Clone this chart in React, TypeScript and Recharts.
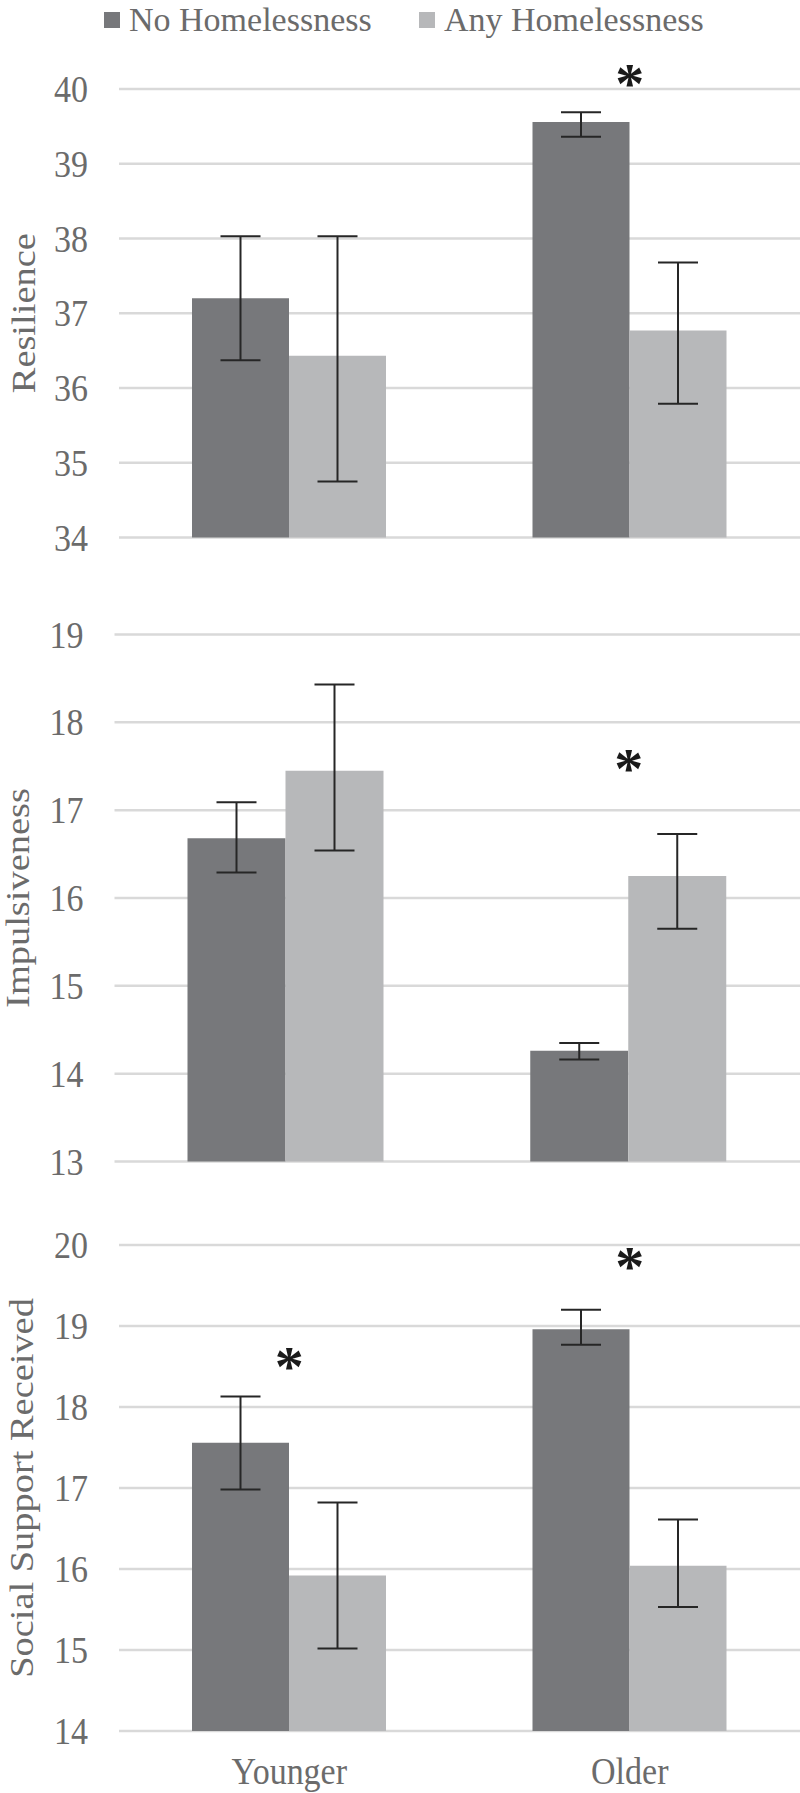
import React from "react";
import { BarChart, Bar, XAxis, YAxis, CartesianGrid, ErrorBar, ReferenceDot, Legend, Label } from "recharts";

const groups = ["Younger", "Older"];
const seriesNames = ["No Homelessness", "Any Homelessness"];

// Resilience
const resNo = [37.2, 39.56];
const resNoLo = [36.37, 39.36];
const resNoHi = [38.03, 39.69];
const resAny = [36.43, 36.77];
const resAnyLo = [34.75, 35.79];
const resAnyHi = [38.03, 37.68];
const resStars = [null, 40.19];
const resTicks = [34, 35, 36, 37, 38, 39, 40];

// Impulsiveness
const impNo = [16.68, 14.26];
const impNoLo = [16.29, 14.16];
const impNoHi = [17.09, 14.35];
const impAny = [17.45, 16.25];
const impAnyLo = [16.54, 15.65];
const impAnyHi = [18.43, 16.73];
const impStars = [null, 17.57];
const impTicks = [13, 14, 15, 16, 17, 18, 19];

// Social Support Received
const supNo = [17.56, 18.96];
const supNoLo = [16.98, 18.77];
const supNoHi = [18.13, 19.2];
const supAny = [15.92, 16.04];
const supAnyLo = [15.02, 15.53];
const supAnyHi = [16.82, 16.61];
const supStars = [18.6, 19.84];
const supTicks = [14, 15, 16, 17, 18, 19, 20];

const DARK = "#77787b";
const LIGHT = "#b7b8ba";
const GRID = "#d9d9d9";
const TEXT = "#6b6b6b";
const SERIF = '"Liberation Serif", "Times New Roman", serif';
const FS = 34;
const SY = 1.13;

function buildRows(no: number[], noLo: number[], noHi: number[], any: number[], anyLo: number[], anyHi: number[]) {
  return groups.map((g, i) => ({
    group: g,
    no: no[i],
    noErr: [no[i] - noLo[i], noHi[i] - no[i]],
    any: any[i],
    anyErr: [any[i] - anyLo[i], anyHi[i] - any[i]],
  }));
}

const YTick = (props: any) => {
  const { x, y, payload } = props;
  return (
    <g transform={`translate(${x},${y}) scale(1,${SY})`}>
      <text x={0} y={0} dy={0.34 * FS} textAnchor="end" fontSize={FS} fontFamily={SERIF} fill={TEXT}>
        {payload.value}
      </text>
    </g>
  );
};

const XTick = (props: any) => {
  const { x, y, payload } = props;
  return (
    <g transform={`translate(${x},${y + 53}) scale(1,${SY})`}>
      <text x={0} y={0} textAnchor="middle" fontSize={FS} fontFamily={SERIF} fill={TEXT}>
        {payload.value}
      </text>
    </g>
  );
};

const titleContent = (text: string, tx: number) => (props: any) => {
  const vb = props.viewBox;
  const cy = vb.y + vb.height / 2;
  return (
    <g transform={`translate(${vb.x + tx},${cy}) scale(1,${SY}) rotate(-90)`}>
      <text x={0} y={0} textAnchor="middle" fontSize={FS} fontFamily={SERIF} fill={TEXT}>
        {text}
      </text>
    </g>
  );
};

const Star = (props: any) => (
  <text x={props.cx} y={props.cy + 28} textAnchor="middle" fontSize={58} fontWeight="bold" fontFamily={SERIF} fill="#1a1a1a">
    *
  </text>
);

const LEGEND_X = [104, 419];

const LegendContent = (props: any) => {
  const items = [...(props.payload || [])].sort(
    (a: any, b: any) => seriesNames.indexOf(a.value) - seriesNames.indexOf(b.value)
  );
  return (
    <svg width={800} height={44} style={{ display: "block" }}>
      {items.map((p: any, i: number) => (
        <g key={i}>
          <rect x={LEGEND_X[i]} y={12} width={16} height={16} fill={p.color} />
          <text x={LEGEND_X[i] + 25} y={31} fontSize={FS} fontFamily={SERIF} fill={TEXT}>
            {p.value}
          </text>
        </g>
      ))}
    </svg>
  );
};

type PanelProps = {
  rows: any[];
  ticks: number[];
  stars: (number | null)[];
  title: string;
  titleX: number;
  top: number;
  height: number;
  margin: { top: number; right: number; bottom: number; left: number };
  yWidth: number;
  showX?: boolean;
  showLegend?: boolean;
};

function Panel({ rows, ticks, stars, title, titleX, top, height, margin, yWidth, showX, showLegend }: PanelProps) {
  return (
    <div style={{ position: "absolute", left: 0, top, width: 800, height }}>
      <BarChart width={800} height={height} data={rows} margin={margin} barCategoryGap={73} barGap={0}>
        <CartesianGrid vertical={false} stroke={GRID} strokeWidth={2.5} />
        <XAxis
          dataKey="group"
          hide={!showX}
          axisLine={false}
          tickLine={false}
          tickSize={0}
          tickMargin={0}
          height={50}
          tick={<XTick />}
        />
        <YAxis
          type="number"
          domain={[ticks[0], ticks[ticks.length - 1]]}
          ticks={ticks}
          interval={0}
          width={yWidth}
          axisLine={false}
          tickLine={false}
          tickSize={0}
          tickMargin={31}
          tick={<YTick />}
        >
          <Label content={titleContent(title, titleX)} />
        </YAxis>
        {showLegend && (
          <Legend
            layout="horizontal"
            verticalAlign="middle"
            align="center"
            wrapperStyle={{ top: 0, left: 0, width: 800, height: 44 }}
            content={<LegendContent />}
          />
        )}
        <Bar dataKey="no" name={seriesNames[0]} fill={DARK} isAnimationActive={false}>
          <ErrorBar dataKey="noErr" width={20} stroke="#262626" strokeWidth={2} isAnimationActive={false} />
        </Bar>
        <Bar dataKey="any" name={seriesNames[1]} fill={LIGHT} isAnimationActive={false}>
          <ErrorBar dataKey="anyErr" width={20} stroke="#262626" strokeWidth={2} isAnimationActive={false} />
        </Bar>
        {stars.map((s, i) =>
          s == null ? null : (
            <ReferenceDot key={i} x={groups[i]} y={s} r={0} ifOverflow="visible" shape={<Star />} />
          )
        )}
      </BarChart>
    </div>
  );
}

export default function App() {
  const resRows = buildRows(resNo, resNoLo, resNoHi, resAny, resAnyLo, resAnyHi);
  const impRows = buildRows(impNo, impNoLo, impNoHi, impAny, impAnyLo, impAnyHi);
  const supRows = buildRows(supNo, supNoLo, supNoHi, supAny, supAnyLo, supAnyHi);
  return (
    <div style={{ position: "absolute", left: 0, top: 0, width: 800, height: 1793, background: "#fff" }}>
      <Panel
        rows={resRows}
        ticks={resTicks}
        stars={resStars}
        title="Resilience"
        titleX={35}
        top={0}
        height={590}
        margin={{ top: 89, right: 0, bottom: 52.5, left: 0 }}
        yWidth={119}
        showLegend
      />
      <Panel
        rows={impRows}
        ticks={impTicks}
        stars={impStars}
        title="Impulsiveness"
        titleX={29}
        top={590}
        height={600}
        margin={{ top: 44.5, right: 0, bottom: 28.5, left: 0 }}
        yWidth={114.5}
      />
      <Panel
        rows={supRows}
        ticks={supTicks}
        stars={supStars}
        title="Social Support Received"
        titleX={33}
        top={1190}
        height={603}
        margin={{ top: 55, right: 0, bottom: 12, left: 0 }}
        yWidth={119}
        showX
      />
    </div>
  );
}
